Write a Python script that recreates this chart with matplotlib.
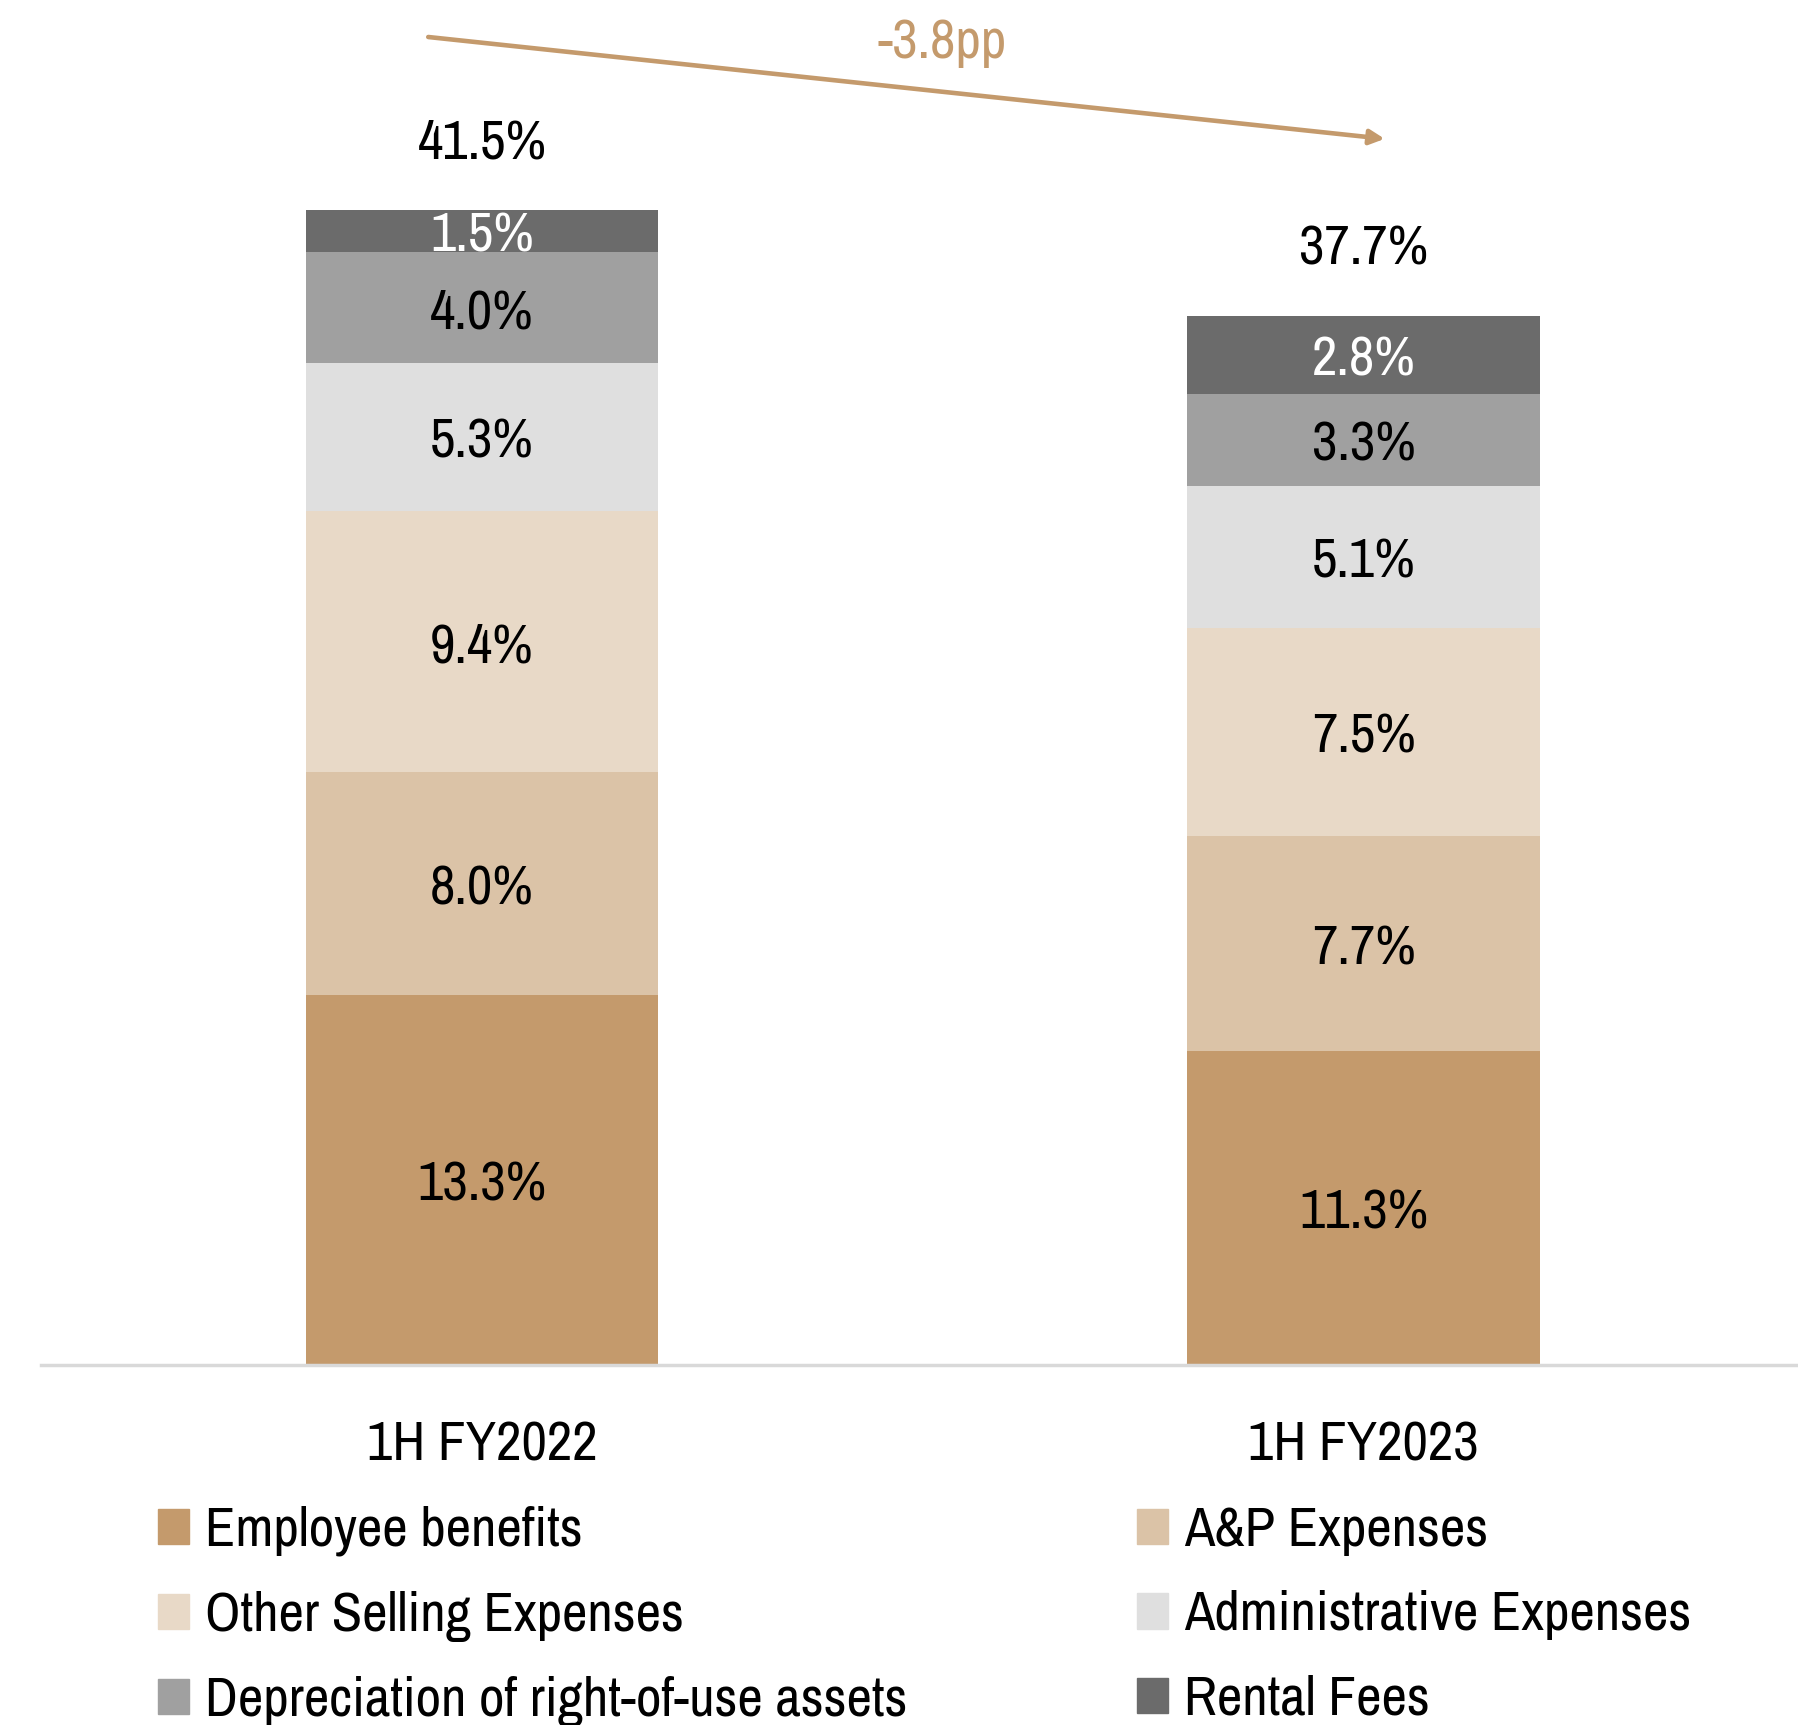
import matplotlib
matplotlib.use("Agg")
import matplotlib.pyplot as plt
from matplotlib import font_manager
from matplotlib.patches import Patch

# data (share of revenue, %)
periods = ["1H FY2022", "1H FY2023"]
categories = [
    "Employee benefits",
    "A&P Expenses",
    "Other Selling Expenses",
    "Administrative Expenses",
    "Depreciation of right-of-use assets",
    "Rental Fees",
]
employee_benefits = [13.3, 11.3]
ap_expenses = [8.0, 7.7]
other_selling = [9.4, 7.5]
admin_expenses = [5.3, 5.1]
depreciation_rou = [4.0, 3.3]
rental_fees = [1.5, 2.8]
totals = [41.5, 37.7]
change_label = "-3.8pp"

series = [employee_benefits, ap_expenses, other_selling,
          admin_expenses, depreciation_rou, rental_fees]
colors = ["#C49A6C", "#DBC3A7", "#E8D9C7", "#DFDFDF", "#A0A0A0", "#6B6B6B"]
label_colors = ["black"] * 5 + ["white"]
tan = "#C49A6C"

installed = sorted({f.name for f in font_manager.fontManager.ttflist})
narrow = [n for n in installed if "Condensed" in n or "Narrow" in n]
if narrow:
    family, fs = narrow[0], 40
else:
    family, fs = "Roboto", 34
plt.rcParams["font.family"] = [family, "DejaVu Sans"]

fig = plt.figure(figsize=(17.99, 17.25), dpi=100)
ax = fig.add_axes([41 / 1799, 360 / 1725, 1 - 41 / 1799, 1365 / 1725])

x = [0, 1]
bottom = [0.0, 0.0]
for vals, col, lcol in zip(series, colors, label_colors):
    bars = ax.bar(x, vals, width=0.40, bottom=bottom, color=col,
                  edgecolor="none", zorder=2)
    for t in ax.bar_label(bars, fmt="{:.1f}%", label_type="center",
                          color=lcol, fontsize=fs):
        t.xyann = (0, -4)
    bottom = [b + v for b, v in zip(bottom, vals)]

for xi, t in zip(x, totals):
    ax.text(xi, t + 2.4, f"{t:.1f}%", ha="center", va="center",
            fontsize=fs, color="black")

# change arrow
ax.annotate("", xy=(1.024, 44.07), xytext=(-0.061, 47.73),
            arrowprops=dict(arrowstyle="-|>", color=tan, lw=3.3,
                            mutation_scale=22, shrinkA=0, shrinkB=0))
ax.text(0.522, 47.5, change_label, ha="center", va="center",
        fontsize=fs, color=tan)

ax.set_xlim(-0.5003, 1.494)
ax.set_ylim(0, 49.06)
ax.set_xticks(x)
ax.set_xticklabels(periods, fontsize=fs)
ax.tick_params(axis="x", length=0, pad=40)
ax.set_yticks([])
for s in ["top", "left", "right"]:
    ax.spines[s].set_visible(False)
ax.spines["bottom"].set_color("#D9D9D9")
ax.spines["bottom"].set_linewidth(2.5)

# legend in two columns, row-wise in stack order
handles = [Patch(color=c) for c in colors]
legend_kw = dict(frameon=False, fontsize=fs, handlelength=0.55,
                 handleheight=0.6, handletextpad=0.3, labelspacing=0.62,
                 borderaxespad=0, borderpad=0, loc="upper left")
fig.legend([handles[i] for i in (0, 2, 4)], [categories[i] for i in (0, 2, 4)],
           bbox_to_anchor=(158 / 1799, 1 - 1506 / 1725), **legend_kw)
fig.legend([handles[i] for i in (1, 3, 5)], [categories[i] for i in (1, 3, 5)],
           bbox_to_anchor=(1137 / 1799, 1 - 1506 / 1725), **legend_kw)

fig.savefig("out.png", dpi=100)
